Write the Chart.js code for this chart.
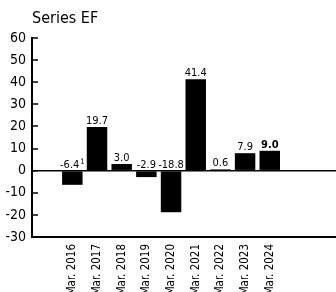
<!DOCTYPE html>
<html>
<head>
<meta charset="utf-8">
<script src="https://cdn.jsdelivr.net/npm/chart.js@4"></script>
<style>
  html, body { margin: 0; padding: 0; background: #fff; }
  #wrap { position: relative; width: 336px; height: 292px; }
  #title { position: absolute; left: 32px; top: 8px; color: #000; white-space: nowrap; }
</style>
</head>
<body>
<div id="wrap">
  <div id="title">Series EF</div>
  <canvas id="chart"></canvas>
</div>
<script>
const categories = ["Mar. 2016", "Mar. 2017", "Mar. 2018", "Mar. 2019", "Mar. 2020",
                    "Mar. 2021", "Mar. 2022", "Mar. 2023", "Mar. 2024"];
const values = [-6.4, 19.7, 3.0, -2.9, -18.8, 41.4, 0.6, 7.9, 9.0];
const valueLabels = ["-6.4", "19.7", "3.0", "-2.9", "-18.8", "41.4", "0.6", "7.9", "9.0"];
const footnotes = ["1", "", "", "", "", "", "", "", ""];
const boldLabels = [false, false, false, false, false, false, false, false, true];
const yTicks = [60, 50, 40, 30, 20, 10, 0, -10, -20, -30];

// pick a condensed face if one is installed
function pickFont() {
  const c = document.createElement("canvas").getContext("2d");
  const sample = "Mar. 2016 -18.8 Series";
  const w = f => { c.font = f; return c.measureText(sample).width; };
  const named = ["Liberation Sans Narrow", "DejaVu Sans Condensed", "Roboto Condensed", "Open Sans Condensed"];
  for (const n of named) {
    if (Math.abs(w(`14px '${n}', monospace`) - w("14px monospace")) > 0.5) {
      return { family: `'${n}', sans-serif`, stretch: "", scale: 1 };
    }
  }
  const stretchable = ["Open Sans", "Noto Sans", "Roboto", "DejaVu Sans", "Inter"];
  for (const n of stretchable) {
    if (w(`condensed 14px '${n}'`) < 0.93 * w(`14px '${n}'`)) {
      return { family: `'${n}', sans-serif`, stretch: "condensed", scale: 1 };
    }
  }
  return { family: "'Liberation Sans', Arial, sans-serif", stretch: "", scale: 0.92 };
}
const F = pickFont();
const fontStr = (size, bold) =>
  [bold ? "bold" : "", F.stretch, Math.round(size * F.scale * 10) / 10 + "px", F.family].filter(Boolean).join(" ");
const cjFont = (size, bold) => ({
  family: F.family,
  size: Math.round(size * F.scale * 10) / 10,
  weight: [bold ? "bold" : "normal", F.stretch].filter(Boolean).join(" ")
});

document.getElementById("title").style.font = fontStr(16, false);

// labels above bars (above the zero line for negatives)
const barLabels = {
  id: "barLabels",
  afterDatasetsDraw(chart) {
    const ctx = chart.ctx;
    const meta = chart.getDatasetMeta(0);
    const y0 = chart.scales.y.getPixelForValue(0);
    ctx.save();
    ctx.fillStyle = "#000";
    ctx.textBaseline = "alphabetic";
    ctx.textAlign = "left";
    meta.data.forEach((bar, i) => {
      const top = values[i] >= 0 ? bar.y : y0;
      const mainFont = fontStr(11, boldLabels[i]);
      ctx.font = mainFont;
      const w = ctx.measureText(valueLabels[i]).width;
      let fw = 0;
      if (footnotes[i]) {
        ctx.font = fontStr(7.5, false);
        fw = ctx.measureText(footnotes[i]).width + 1;
      }
      const x = bar.x - (w + fw) / 2;
      ctx.font = mainFont;
      ctx.fillText(valueLabels[i], x, top - 3);
      if (footnotes[i]) {
        ctx.font = fontStr(7.5, false);
        ctx.fillText(footnotes[i], x + w + 1, top - 7);
      }
    });
    ctx.restore();
  }
};

new Chart(document.getElementById("chart"), {
  type: "bar",
  data: {
    datasets: [{
      data: values.map((v, i) => ({ x: i, y: v })),
      backgroundColor: "#000",
      borderWidth: 0,
      barPercentage: 0.83,
      categoryPercentage: 1
    }]
  },
  options: {
    responsive: true,
    maintainAspectRatio: false,
    animation: false,
    layout: { padding: { left: 0, right: 0, top: 38, bottom: 0 } },
    plugins: {
      legend: { display: false },
      tooltip: { enabled: false },
      title: { display: false }
    },
    scales: {
      x: {
        type: "linear",
        min: -0.95,
        max: 10,
        afterBuildTicks: s => { s.ticks = categories.map((_, i) => ({ value: i })); },
        afterFit: s => { s.height = 55; },
        grid: { display: false, drawTicks: false },
        border: { display: true, color: "#000", width: 2 },
        ticks: {
          autoSkip: false,
          minRotation: 90,
          maxRotation: 90,
          padding: 7,
          color: "#000",
          font: cjFont(11.5, false),
          callback: v => categories[v] ?? ""
        }
      },
      y: {
        min: -30,
        max: 60,
        afterBuildTicks: s => { s.ticks = yTicks.map(v => ({ value: v })); },
        afterFit: s => { s.width = 32; },
        grid: {
          drawOnChartArea: true,
          color: c => (c.tick && c.tick.value === 0) ? "#000" : "rgba(0,0,0,0)",
          lineWidth: c => (c.tick && c.tick.value === 0) ? 1.5 : 0,
          tickColor: "#000",
          tickLength: -6,
          tickWidth: 1.5
        },
        border: { display: true, color: "#000", width: 2 },
        ticks: {
          padding: 12,
          color: "#000",
          font: cjFont(14, false)
        }
      }
    }
  },
  plugins: [barLabels]
});
</script>
</body>
</html>
